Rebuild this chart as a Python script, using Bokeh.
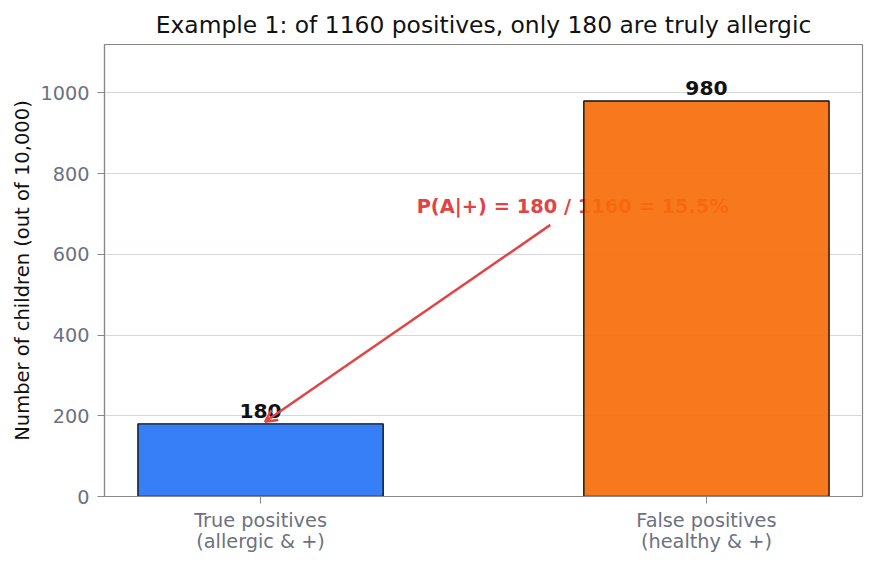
from bokeh.plotting import figure
from bokeh.models import ColumnDataSource, FixedTicker, Range1d, Arrow, OpenHead, Title
from bokeh.core.properties import value
from bokeh.embed import file_html
from bokeh.resources import INLINE

# data
categories = ["True positives\n(allergic & +)", "False positives\n(healthy & +)"]
counts = [180, 980]
bar_colors = ["#2674F5", "#F76E0A"]
annotation_text = "P(A|+) = 180 / 1160 = 15.5%"
annotation_xy = (0.0, 180)
annotation_xytext = (0.7, 718)
arrow_start = (0.65, 673)
yticks = [0, 200, 400, 600, 800, 1000]

FONT = "DejaVu Sans"
xs = list(range(len(categories)))

p = figure(width=877, height=565, output_backend="svg", toolbar_location=None,
           x_range=Range1d(-0.35, 1.35), y_range=Range1d(0, 1120),
           min_border_left=104, min_border_right=15, min_border_top=44, min_border_bottom=69)
p.title = Title(text="Example 1: of 1160 positives, only 180 are truly allergic",
                align="center", text_font=FONT, text_font_size="23.4px",
                text_font_style="normal", text_color="#111111", standoff=11)
p.outline_line_color = "#888888"
p.outline_line_width = 1.2
p.background_fill_color = "white"
p.border_fill_color = "white"

# annotation text (drawn beneath bars)
p.text(x=[annotation_xytext[0]], y=[annotation_xytext[1]], text=[annotation_text],
       text_font=value(FONT), text_font_size="19.4px", text_font_style="bold",
       text_color="#E04444", text_align="center", text_baseline="middle")

src = ColumnDataSource(dict(x=xs, top=counts, color=bar_colors,
                            label=[str(c) for c in counts]))
p.vbar(x="x", top="top", width=0.55, bottom=0, source=src, fill_color="color",
       fill_alpha=0.92, line_color="#111111", line_width=1.4)

p.text(x="x", y="top", text="label", source=src, text_font=value(FONT),
       text_font_size="20.3px", text_font_style="bold", text_color="#111111",
       text_align="center", text_baseline="bottom", y_offset=-6)

p.add_layout(Arrow(end=OpenHead(size=12, line_color="#E04444", line_width=2.5),
                   x_start=arrow_start[0], y_start=arrow_start[1],
                   x_end=annotation_xy[0] + 0.01, y_end=annotation_xy[1] + 5,
                   line_color="#E04444", line_width=2.5))

# axes
p.xaxis.ticker = FixedTicker(ticks=xs)
p.xaxis.major_label_overrides = {i: c for i, c in enumerate(categories)}
p.yaxis.ticker = FixedTicker(ticks=yticks)
for ax in (p.xaxis[0], p.yaxis[0]):
    ax.major_label_text_font = FONT
    ax.major_label_text_font_size = "19.3px"
    ax.major_label_text_color = "#6b7280"
    ax.axis_line_color = "#888888"
    ax.axis_line_width = 1.2
    ax.major_tick_line_color = "#888888"
    ax.major_tick_in = 0
    ax.major_tick_out = 7
    ax.minor_tick_line_color = None
p.yaxis.major_label_standoff = 8
p.xaxis.major_label_standoff = 5
p.xaxis.major_label_text_line_height = 0.95
p.yaxis.axis_label = "Number of children (out of 10,000)"
p.yaxis.axis_label_text_font = FONT
p.yaxis.axis_label_text_font_size = "19.5px"
p.yaxis.axis_label_text_font_style = "normal"
p.yaxis.axis_label_text_color = "#111111"
p.yaxis.axis_label_standoff = 3
p.xgrid.grid_line_color = None
p.ygrid.grid_line_color = "#d4d8dd"
p.ygrid.grid_line_width = 1

open("out.html", "w").write(file_html(p, INLINE))
